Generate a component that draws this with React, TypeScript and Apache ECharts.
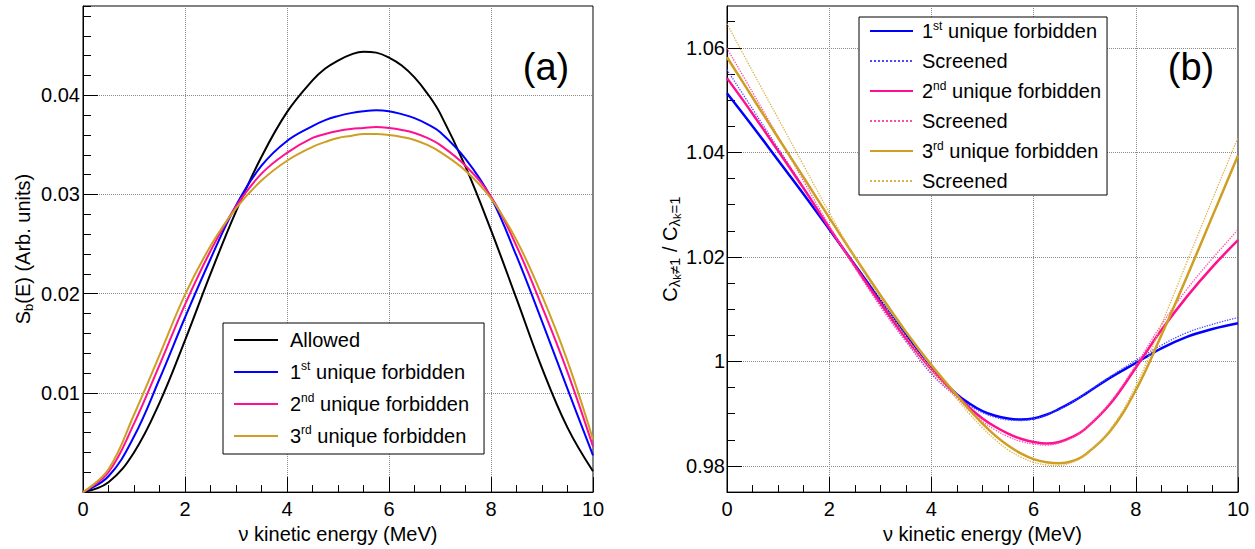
import React, { useEffect, useRef } from 'react';
import * as echarts from 'echarts';

// ---------- data ----------
const energy = [0, 0.5, 1, 1.5, 2, 2.5, 3, 3.5, 4, 4.5, 4.75, 5, 5.25, 5.5, 5.75, 6, 6.25, 6.5, 6.75, 7, 7.5, 8, 8.5, 9, 9.5, 10];

// panel (a): S_b(E)
const allowedA = [0, 0.001, 0.004, 0.009, 0.0153, 0.022, 0.0283, 0.0338, 0.0383, 0.0415, 0.0427, 0.0435, 0.0441, 0.0444, 0.0443, 0.0438, 0.043, 0.0418, 0.0402, 0.0382, 0.0328, 0.0264, 0.0195, 0.0125, 0.0065, 0.0021];
const firstA = [0, 0.0016, 0.0056, 0.0114, 0.0176, 0.0235, 0.0289, 0.0329, 0.0354, 0.0369, 0.0375, 0.0379, 0.0382, 0.0384, 0.0385, 0.0384, 0.0381, 0.0377, 0.0371, 0.0363, 0.0336, 0.0297, 0.0238, 0.0172, 0.0104, 0.0037];
const secondA = [0, 0.002, 0.0069, 0.0128, 0.0189, 0.0243, 0.0288, 0.0321, 0.0342, 0.0357, 0.0361, 0.0364, 0.0366, 0.0367, 0.0368, 0.0367, 0.0365, 0.0362, 0.0357, 0.035, 0.0329, 0.0298, 0.0248, 0.0187, 0.0121, 0.0046];
const thirdA = [0, 0.0023, 0.0078, 0.0138, 0.0199, 0.0248, 0.0286, 0.0314, 0.0334, 0.0348, 0.0353, 0.0357, 0.0359, 0.0361, 0.0361, 0.036, 0.0358, 0.0355, 0.035, 0.0343, 0.0324, 0.0296, 0.0254, 0.0198, 0.0132, 0.0053];

// panel (b): ratio C(λk≠1)/C(λk=1)
const firstB = [1.0513, 1.045, 1.0385, 1.032, 1.0253, 1.0185, 1.0117, 1.005, 0.9986, 0.9937, 0.9919, 0.9905, 0.9896, 0.9891, 0.9889, 0.9891, 0.9898, 0.9909, 0.9922, 0.9937, 0.9969, 0.9997, 1.0025, 1.0047, 1.0062, 1.0073];
const firstScr = [1.0558, 1.0483, 1.0408, 1.0333, 1.0256, 1.0181, 1.0108, 1.004, 0.9976, 0.9932, 0.9915, 0.9902, 0.9893, 0.9888, 0.9887, 0.989, 0.9897, 0.9908, 0.9922, 0.9938, 0.9971, 1.0002, 1.0031, 1.0055, 1.0071, 1.0084];
const secondB = [1.0542, 1.0474, 1.0403, 1.0331, 1.0256, 1.0183, 1.0112, 1.0045, 0.9985, 0.9935, 0.9911, 0.9891, 0.9875, 0.9862, 0.9852, 0.9846, 0.9843, 0.9846, 0.9855, 0.987, 0.9919, 0.9988, 1.006, 1.0124, 1.0181, 1.0232];
const secondScr = [1.0599, 1.0515, 1.043, 1.0345, 1.026, 1.018, 1.0105, 1.0038, 0.9978, 0.993, 0.9906, 0.9885, 0.9869, 0.9856, 0.9847, 0.9842, 0.984, 0.9844, 0.9854, 0.987, 0.9922, 0.9993, 1.007, 1.0138, 1.0197, 1.0252];
const thirdB = [1.0582, 1.0505, 1.0428, 1.0352, 1.0275, 1.02, 1.0127, 1.0057, 0.9993, 0.9935, 0.9907, 0.9881, 0.9858, 0.9839, 0.9824, 0.9813, 0.9807, 0.9805, 0.9809, 0.9821, 0.9867, 0.9945, 1.005, 1.0162, 1.0278, 1.0394];
const thirdScr = [1.0646, 1.0555, 1.0465, 1.0375, 1.0285, 1.02, 1.012, 1.0048, 0.9985, 0.9928, 0.9899, 0.9873, 0.985, 0.9831, 0.9817, 0.9807, 0.9802, 0.9801, 0.9807, 0.982, 0.987, 0.9953, 1.007, 1.019, 1.031, 1.0428];

const xTicks = [0, 2, 4, 6, 8, 10];
const yTicksB = [0.98, 1.0, 1.02, 1.04, 1.06];
const minorTicksB = [0.975, 0.98, 0.985, 0.99, 0.995, 1.0, 1.005, 1.01, 1.015, 1.02, 1.025, 1.03, 1.035, 1.04, 1.045, 1.05, 1.055, 1.06, 1.065];

const namesA = ['Allowed', '1st unique forbidden', '2nd unique forbidden', '3rd unique forbidden'];
const namesB = ['1st unique forbidden (b)', 'Screened (1st)', '2nd unique forbidden (b)', 'Screened (2nd)', '3rd unique forbidden (b)', 'Screened (3rd)'];

// ---------- style ----------
const FONT = '"Liberation Sans", Arial, Helvetica, sans-serif';
const BLUE = '#0000ff';
const PINK = '#ff1090';
const GOLD = '#cf9f24';

const pairs = (ys: number[]) => energy.map((e, i) => [e, ys[i]]);

const legendFormatter = (gap: number) => (name: string) => {
  const base = name.replace(/ \(.*\)$/, '');
  const m = base.match(/^(\d)(st|nd|rd) (.*)$/);
  const g = gap > 0 ? '{g| }' : '';
  if (m) return `${g}{n|${m[1]}}{sup|${m[2]}}{n| ${m[3]}}`;
  return `${g}{n|${base}}`;
};

const legendRich = (gap: number, lh: number) => ({
  g: { width: gap, fontSize: 20, lineHeight: lh },
  n: { fontSize: 20, fontFamily: FONT, color: '#000', lineHeight: lh },
  sup: { fontSize: 12, fontFamily: FONT, color: '#000', lineHeight: 14, verticalAlign: 'top' },
});

const axisCommonX = (gridIndex: number) => ({
  gridIndex,
  type: 'value',
  min: 0,
  max: 10,
  interval: 2,
  name: 'ν kinetic energy (MeV)',
  nameLocation: 'middle',
  nameGap: 22,
  nameTextStyle: { fontSize: 20, fontFamily: FONT, color: '#000' },
  axisLine: { show: true, onZero: false, lineStyle: { color: '#000', width: 1 } },
  axisTick: { show: true, inside: true, length: 15, lineStyle: { color: '#000', width: 1 } },
  minorTick: { show: true, splitNumber: 4, length: 7, lineStyle: { color: '#000', width: 1 } },
  axisLabel: { fontSize: 20, fontFamily: FONT, color: '#000', margin: 7, formatter: (v: number) => (xTicks.includes(v) ? String(v) : '') },
  splitLine: { show: true, lineStyle: { type: 'dotted', color: '#8a8a8a', width: 1 } },
});

const seriesA = (name: string, ys: number[], color: string) => ({
  name, type: 'line', xAxisIndex: 0, yAxisIndex: 0, data: pairs(ys), smooth: 0.4, symbol: 'none',
  lineStyle: { color, width: 2 }, itemStyle: { color },
});
const seriesB = (name: string, ys: number[], color: string, dotted: boolean) => ({
  name, type: 'line', xAxisIndex: 1, yAxisIndex: 2, data: pairs(ys), smooth: 0.4, symbol: 'none',
  lineStyle: dotted ? { color, width: 1.3, type: 'dotted' } : { color, width: 2.5 }, itemStyle: { color },
});

const option: any = {
  animation: false,
  backgroundColor: '#fff',
  textStyle: { fontFamily: FONT },
  grid: [
    { left: 83, top: 6, width: 510, height: 498, show: true, borderColor: '#000', borderWidth: 1, backgroundColor: 'transparent' },
    { left: 727, top: 6, width: 511, height: 497, show: true, borderColor: '#000', borderWidth: 1, backgroundColor: 'transparent' },
  ],
  xAxis: [axisCommonX(0), axisCommonX(1)],
  yAxis: [
    {
      gridIndex: 0,
      type: 'value',
      min: 0,
      max: 0.049,
      interval: 0.01,
      name: '{n|S}{sub|b}{n|(E) (Arb. units)}',
      nameLocation: 'middle',
      nameGap: 48,
      nameTextStyle: {
        rich: {
          n: { fontSize: 20, fontFamily: FONT, color: '#000', lineHeight: 24 },
          sub: { fontSize: 13, fontFamily: FONT, color: '#000', lineHeight: 10, verticalAlign: 'bottom' },
        },
      },
      axisLine: { show: true, onZero: false, lineStyle: { color: '#000', width: 1 } },
      axisTick: { show: true, inside: true, length: 15, lineStyle: { color: '#000' } },
      axisLabel: {
        fontSize: 20,
        fontFamily: FONT,
        color: '#000',
        margin: 3,
        showMaxLabel: false,
        formatter: (v: number) => {
          const k = Math.round(v * 100);
          return k > 0 && Math.abs(v * 100 - k) < 1e-6 ? (k / 100).toFixed(2) : '';
        },
      },
      splitLine: { show: true, lineStyle: { type: 'dotted', color: '#8a8a8a', width: 1 } },
    },
    {
      gridIndex: 0,
      type: 'value',
      min: 0,
      max: 0.049,
      interval: 0.002,
      position: 'left',
      axisLine: { show: false },
      axisTick: { show: true, inside: true, length: 8, lineStyle: { color: '#000' } },
      axisLabel: { show: false },
      splitLine: { show: false },
    },
    {
      gridIndex: 1,
      type: 'value',
      min: 0.975,
      max: 1.068,
      name: '{n|C}{s1|λ}{s2|k}{s1|≠1}{n| / C}{s1|λ}{s2|k}{s1|=1}',
      nameLocation: 'middle',
      nameGap: 44,
      nameTextStyle: {
        rich: {
          n: { fontSize: 20, fontFamily: FONT, color: '#000', lineHeight: 24 },
          s1: { fontSize: 15, fontFamily: FONT, color: '#000', lineHeight: 12, verticalAlign: 'bottom' },
          s2: { fontSize: 11, fontFamily: FONT, color: '#000', lineHeight: 6, verticalAlign: 'bottom' },
        },
      },
      axisLine: { show: true, onZero: false, lineStyle: { color: '#000', width: 1 } },
      axisTick: { show: true, inside: true, length: 15, customValues: yTicksB, lineStyle: { color: '#000' } },
      axisLabel: {
        fontSize: 20,
        fontFamily: FONT,
        color: '#000',
        margin: 2,
        customValues: yTicksB,
        formatter: (v: number) => String(parseFloat(v.toFixed(2))),
      },
      splitLine: { show: true, lineStyle: { type: 'dotted', color: '#8a8a8a', width: 1 } },
    },
    {
      gridIndex: 1,
      type: 'value',
      min: 0.975,
      max: 1.068,
      position: 'left',
      axisLine: { show: false },
      axisTick: { show: true, inside: true, length: 8, customValues: minorTicksB, lineStyle: { color: '#000' } },
      axisLabel: { show: false },
      splitLine: { show: false },
    },
  ],
  legend: [
    {
      data: namesA,
      orient: 'vertical',
      left: 223,
      top: 323,
      padding: [5, 15, 6, 10],
      itemWidth: 44,
      itemHeight: 2,
      itemGap: 8,
      borderColor: '#000',
      borderWidth: 1,
      borderRadius: 0,
      backgroundColor: '#fff',
      selectedMode: false,
      formatter: legendFormatter(7),
      textStyle: { fontSize: 20, fontFamily: FONT, color: '#000', lineHeight: 24, rich: legendRich(7, 24) },
    },
    {
      data: namesB,
      orient: 'vertical',
      left: 859,
      top: 17,
      padding: [3, 6, 3, 10],
      itemWidth: 43,
      itemHeight: 2,
      itemGap: 8,
      borderColor: '#000',
      borderWidth: 1,
      borderRadius: 0,
      backgroundColor: '#fff',
      selectedMode: false,
      formatter: legendFormatter(4),
      textStyle: { fontSize: 20, fontFamily: FONT, color: '#000', lineHeight: 22, rich: legendRich(4, 22) },
    },
  ],
  graphic: [
    { type: 'text', x: 546, y: 67, style: { text: '(a)', fontSize: 38, fontFamily: FONT, fill: '#000', align: 'center', verticalAlign: 'middle' } },
    { type: 'text', x: 1191, y: 67, style: { text: '(b)', fontSize: 38, fontFamily: FONT, fill: '#000', align: 'center', verticalAlign: 'middle' } },
  ],
  series: [
    seriesA(namesA[0], allowedA, '#000'),
    seriesA(namesA[1], firstA, BLUE),
    seriesA(namesA[2], secondA, PINK),
    seriesA(namesA[3], thirdA, GOLD),
    seriesB(namesB[0], firstB, BLUE, false),
    seriesB(namesB[1], firstScr, '#4a4aff', true),
    seriesB(namesB[2], secondB, PINK, false),
    seriesB(namesB[3], secondScr, '#ff4aa8', true),
    seriesB(namesB[4], thirdB, GOLD, false),
    seriesB(namesB[5], thirdScr, '#dcb24a', true),
  ],
};

export default function App() {
  const ref = useRef<HTMLDivElement>(null);
  useEffect(() => {
    document.body.style.margin = '0';
    const chart = echarts.init(ref.current as HTMLDivElement, null, { renderer: 'svg' });
    chart.setOption(option);
    return () => chart.dispose();
  }, []);
  return <div ref={ref} style={{ width: 1255, height: 549 }} />;
}
